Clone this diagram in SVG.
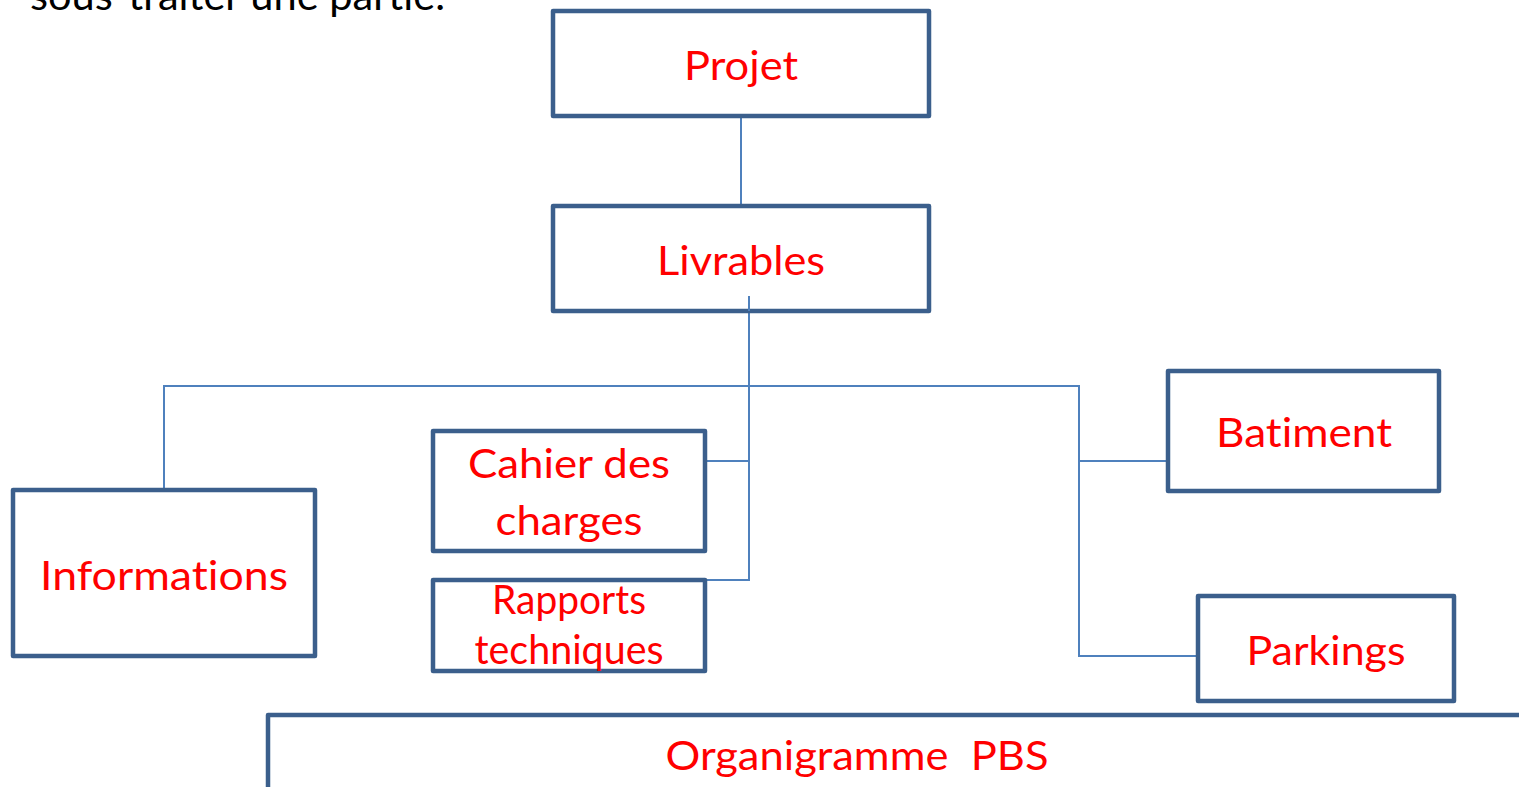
<svg xmlns="http://www.w3.org/2000/svg" width="1519" height="787" viewBox="0 0 1519 787">
<style>
text{font-variant-ligatures:none}
.box{fill:#fff;stroke:#3b5f8c;stroke-width:4.5;stroke-linejoin:round}
.lbl{font-family:Lato,"Open Sans",sans-serif;font-size:40px;fill:#ff0000;text-anchor:middle}
.con{fill:none;stroke:#4f81bd;stroke-width:2}
</style>
<rect width="1519" height="787" fill="#fff"/>
<text x="30" y="10" font-family="Lato,'Open Sans',sans-serif" font-size="40" fill="#000" textLength="415" lengthAdjust="spacingAndGlyphs">sous-traiter une partie.</text>
<g id="connectors">
<line class="con" x1="741" y1="116" x2="741" y2="206"/>
<polyline class="con" points="749,296 749,580 705,580"/>
<line class="con" x1="705" y1="461" x2="749" y2="461"/>
<polyline class="con" points="164,490 164,386 1079,386 1079,656 1198,656"/>
<line class="con" x1="1079" y1="461" x2="1168" y2="461"/>
</g>
<g id="projet"><rect class="box" x="553" y="11" width="376" height="105"/><text class="lbl" x="741" y="80" textLength="114" lengthAdjust="spacingAndGlyphs">Projet</text></g>
<g id="livrables"><rect class="box" x="553" y="206" width="376" height="105"/><text class="lbl" x="741" y="275" textLength="168" lengthAdjust="spacingAndGlyphs">Livrables</text></g>
<line class="con" x1="749" y1="296" x2="749" y2="311"/>
<g id="cahier"><rect class="box" x="433" y="431" width="272" height="120"/><text class="lbl" x="569" y="478" textLength="202" lengthAdjust="spacingAndGlyphs">Cahier des</text><text class="lbl" x="569" y="535" textLength="147" lengthAdjust="spacingAndGlyphs">charges</text></g>
<g id="rapports"><rect class="box" x="433" y="580" width="272" height="91"/><text class="lbl" x="569" y="614" font-size="36" textLength="154" lengthAdjust="spacingAndGlyphs">Rapports</text><text class="lbl" x="569" y="664" font-size="36" textLength="189" lengthAdjust="spacingAndGlyphs">techniques</text></g>
<g id="informations"><rect class="box" x="13" y="490" width="302" height="166"/><text class="lbl" x="164" y="590" textLength="248" lengthAdjust="spacingAndGlyphs">Informations</text></g>
<g id="batiment"><rect class="box" x="1168" y="371" width="271" height="120"/><text class="lbl" x="1304" y="447" textLength="176" lengthAdjust="spacingAndGlyphs">Batiment</text></g>
<g id="parkings"><rect class="box" x="1198" y="596" width="256" height="105"/><text class="lbl" x="1326" y="665" textLength="159" lengthAdjust="spacingAndGlyphs">Parkings</text></g>
<g id="organigramme"><rect class="box" x="268" y="715" width="1270" height="100"/><text class="lbl" x="857" y="770" style="white-space:pre" textLength="383" lengthAdjust="spacingAndGlyphs">Organigramme  PBS</text></g>
</svg>
